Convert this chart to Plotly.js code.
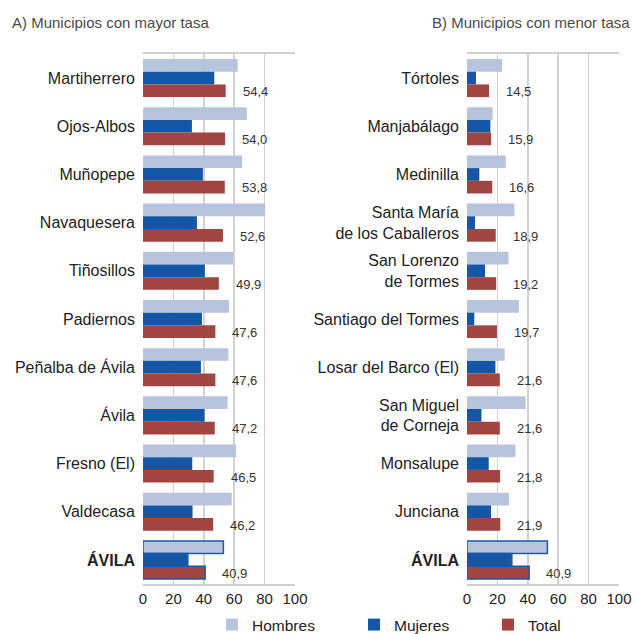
<!DOCTYPE html>
<html>
<head>
<meta charset="utf-8">
<script src="https://cdn.plot.ly/plotly-3.0.1.min.js"></script>
<style>html,body{margin:0;padding:0;background:#fff;}#chart{width:635px;height:634px;}</style>
</head>
<body>
<div id="chart"></div>
<script>
// ---- Data ----
var catsA = ['Martiherrero','Ojos-Albos','Muñopepe','Navaquesera','Tiñosillos','Padiernos','Peñalba de Ávila','Ávila','Fresno (El)','Valdecasa','ÁVILA'];
var labelsA = ['Martiherrero','Ojos-Albos','Muñopepe','Navaquesera','Tiñosillos','Padiernos','Peñalba de Ávila','Ávila','Fresno (El)','Valdecasa','<b>ÁVILA</b>'];
var hombresA = [62.3,68.3,65.2,80.4,59.3,56.6,56.2,55.7,61.2,58.4,52.9];
var mujeresA = [46.9,32.2,39.4,35.5,40.7,38.8,38.1,40.5,32.4,32.6,29.5];
var totalA   = [54.4,54.0,53.8,52.6,49.9,47.6,47.6,47.2,46.5,46.2,40.9];

var catsB = ['Tórtoles','Manjabálago','Medinilla','Santa María de los Caballeros','San Lorenzo de Tormes','Santiago del Tormes','Losar del Barco (El)','San Miguel de Corneja','Monsalupe','Junciana','ÁVILA'];
var labelsB = ['Tórtoles','Manjabálago','Medinilla','Santa María<br>de los Caballeros','San Lorenzo<br>de Tormes','Santiago del Tormes','Losar del Barco (El)','San Miguel<br>de Corneja','Monsalupe','Junciana','<b>ÁVILA</b>'];
var hombresB = [23.1,16.9,25.5,31.2,27.3,34.1,24.8,38.5,31.9,27.7,52.9];
var mujeresB = [5.9,15.4,8.1,5.3,11.9,4.8,18.7,9.5,14.3,15.8,29.5];
var totalB   = [14.5,15.9,16.6,18.9,19.2,19.7,21.6,21.6,21.8,21.9,40.9];

var seriesNames = ['Hombres','Mujeres','Total'];
var xTicks = [0,20,40,60,80,100];
var titleA = 'A) Municipios con mayor tasa';
var titleB = 'B) Municipios con menor tasa';

// ---- Styles ----
var colors = ['#b7c4dd','#1457a6','#a04540'];
var hiColor = '#1a5aa6';
var W = 635, H = 634;
var legendX = [212, 354, 488];
var legendKeys = ['legend','legend2','legend3'];

function lineSpec(cats){
  return {
    color: cats.map(function(c){ return c === 'ÁVILA' ? hiColor : 'rgba(0,0,0,0)'; }),
    width: cats.map(function(c){ return c === 'ÁVILA' ? 1.5 : 0; })
  };
}

var traces = [];
[[catsA,[hombresA,mujeresA,totalA],'x','y'],[catsB,[hombresB,mujeresB,totalB],'x2','y2']].forEach(function(p, pi){
  p[1].forEach(function(vals, si){
    traces.push({
      type:'bar', orientation:'h',
      y:p[0], x:vals, name:seriesNames[si],
      xaxis:p[2], yaxis:p[3],
      marker:{color:colors[si], line: lineSpec(p[0])},
      showlegend: pi === 0,
      legend: legendKeys[si],
      hoverinfo:'x+y'
    });
  });
});

function fmt(v){ return v.toFixed(1).replace('.', ','); }

var annotations = [];
[[totalA,'x','y'],[totalB,'x2','y2']].forEach(function(p){
  p[0].forEach(function(v,i){
    annotations.push({
      xref:p[1], yref:p[2], x:v, y:i + 0.28,
      text:fmt(v), showarrow:false, xanchor:'left', yanchor:'middle',
      xshift:15, font:{family:'Liberation Sans, Arial, sans-serif', size:13, color:'#333'}
    });
  });
});
var titleFont = {family:'Liberation Sans, Arial, sans-serif', size:15, color:'#4a4a4a'};
annotations.push({xref:'paper', yref:'paper', x:10/W, y:1-22/H, xanchor:'left', yanchor:'middle',
  text:titleA, showarrow:false, font:titleFont});
annotations.push({xref:'paper', yref:'paper', x:632/W, y:1-22/H, xanchor:'right', yanchor:'middle',
  text:titleB, showarrow:false, font:titleFont});

var tickFont = {family:'Liberation Sans, Arial, sans-serif', size:16, color:'#222'};
var numFont = {family:'Liberation Sans, Arial, sans-serif', size:15, color:'#222'};

function xax(domain, anchor){
  return {domain:domain, anchor:anchor, range:[0,100], tickvals:xTicks, ticktext:xTicks.map(String),
    showgrid:true, gridcolor:'#d2d2d2', gridwidth:1.5, zeroline:false,
    showline:true, mirror:true, linecolor:'#cfcfcf', linewidth:2,
    ticks:'', tickfont:numFont, automargin:false, fixedrange:true};
}
function yax(cats, labels, anchor){
  return {domain:[1-584/H, 1-54/H], anchor:anchor, type:'category',
    categoryorder:'array', categoryarray:cats, autorange:'reversed',
    tickvals:cats, ticktext:labels, tickfont:tickFont, ticks:'', ticklabelstandoff:7,
    showgrid:false, zeroline:false, showline:false, automargin:false, fixedrange:true};
}

var layout = {
  width:W, height:H, margin:{l:0,r:0,t:0,b:0,autoexpand:false},
  paper_bgcolor:'#fff', plot_bgcolor:'#fff',
  barmode:'group', bargap:0.21, bargroupgap:0,
  xaxis: xax([143/W, 295/W], 'y'),
  yaxis: yax(catsA, labelsA, 'x'),
  xaxis2: xax([467/W, 619/W], 'y2'),
  yaxis2: yax(catsB, labelsB, 'x2'),
  showlegend:true,
  annotations:annotations
};
legendKeys.forEach(function(k, i){
  layout[k] = {orientation:'h', xref:'container', yref:'container', x:legendX[i]/W, xanchor:'left',
    y:1-625/H, yanchor:'middle', entrywidth:90, entrywidthmode:'pixels',
    font:{family:'Liberation Sans, Arial, sans-serif', size:15.5, color:'#222'},
    bgcolor:'rgba(0,0,0,0)'};
});

Plotly.newPlot('chart', traces, layout, {displayModeBar:false, staticPlot:true});
</script>
</body>
</html>
